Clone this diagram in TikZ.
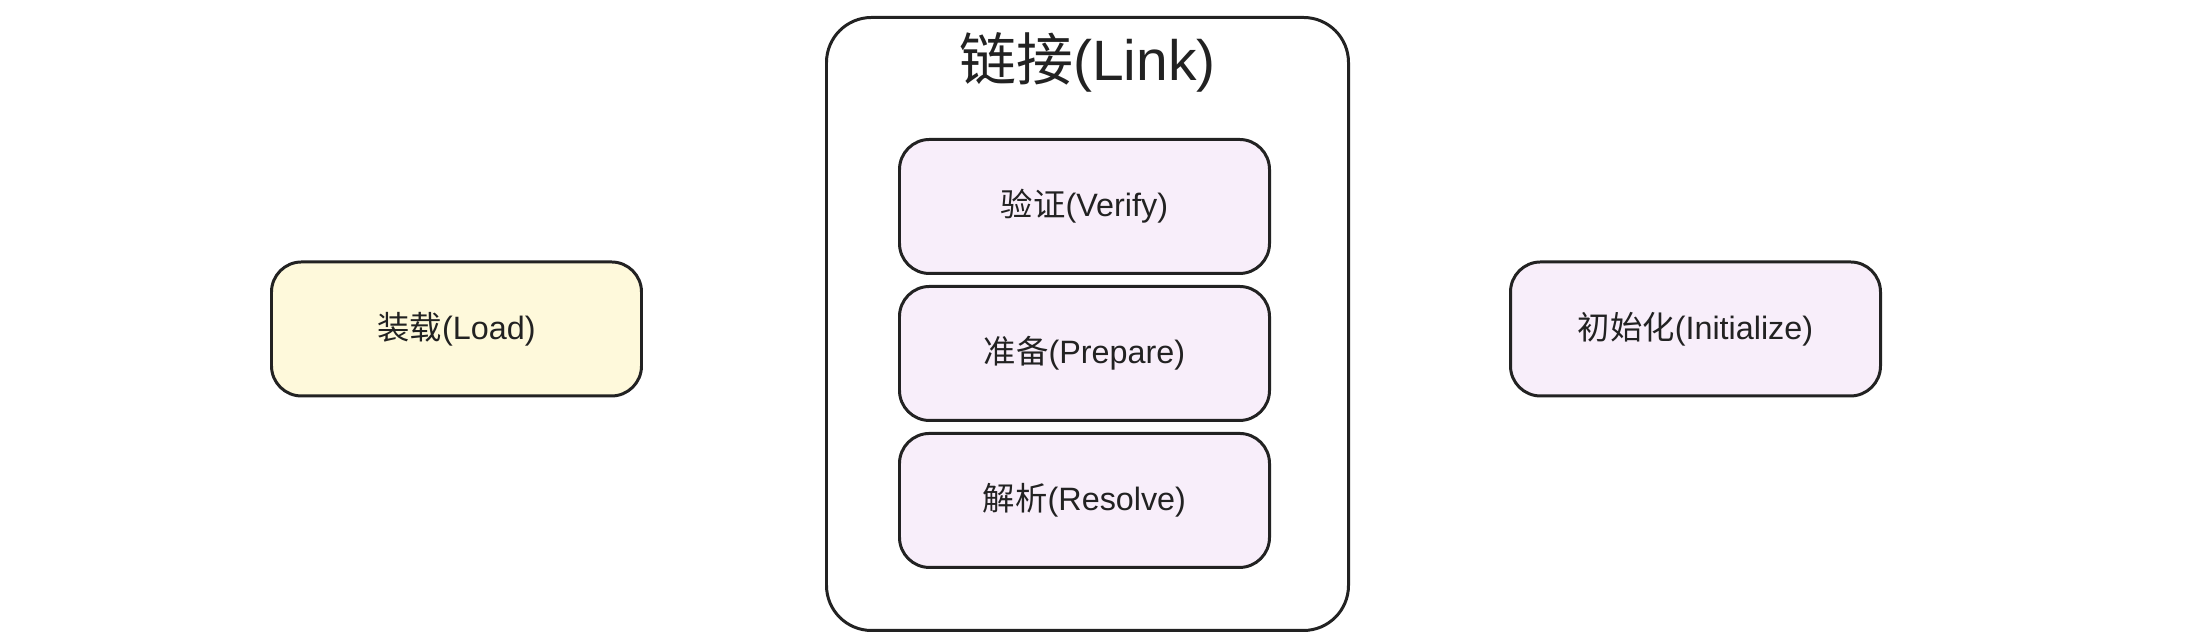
\documentclass[tikz,border=0pt]{standalone}
\usepackage{fontspec}
\setmainfont{Liberation Sans}
\newfontfamily\cjk{Noto Sans CJK SC}
\usetikzlibrary{positioning}

\definecolor{lkInk}{HTML}{222222}
\definecolor{lkYellow}{HTML}{FEF9DB}
\definecolor{lkPurple}{HTML}{F8EEFA}

\begin{document}
\begin{tikzpicture}[
  x=1cm, y=1cm, text=lkInk,
  lk box/.style={draw=lkInk,line width=.85pt,rounded corners=.3cm,
    minimum width=3.70cm,minimum height=1.34cm,inner sep=0pt,
    font=\fontsize{9.2}{11}\selectfont},
  lk load/.style={lk box,fill=lkYellow},
  lk step/.style={lk box,fill=lkPurple},
  lk group/.style={draw=lkInk,line width=.85pt,rounded corners=.45cm,
    minimum width=5.22cm,minimum height=6.13cm,inner sep=0pt}
]
\useasboundingbox (0,0) rectangle (22.04,6.42);

% Outer phase box and its title.
\node[lk group] (link) at (10.875,3.18) {};
\node[font=\fontsize{16.2}{19}\selectfont,inner sep=0pt] (linkTitle)
  at (10.875,5.80) {{\cjk 链接}(Link)};

% The three sub-phases of linking, stacked.
\node[lk step] (verify) at (10.845,4.355) {{\cjk 验证}(Verify)};
\node[lk step,below=.10cm of verify] (prepare) {{\cjk 准备}(Prepare)};
\node[lk step,below=.10cm of prepare] (resolve) {{\cjk 解析}(Resolve)};

% Phases before and after linking.
\node[lk load] (load) at (4.565,3.13) {{\cjk 装载}(Load)};
\node[lk step] (init) at (16.955,3.13) {{\cjk 初始化}(Initialize)};
\end{tikzpicture}
\end{document}
